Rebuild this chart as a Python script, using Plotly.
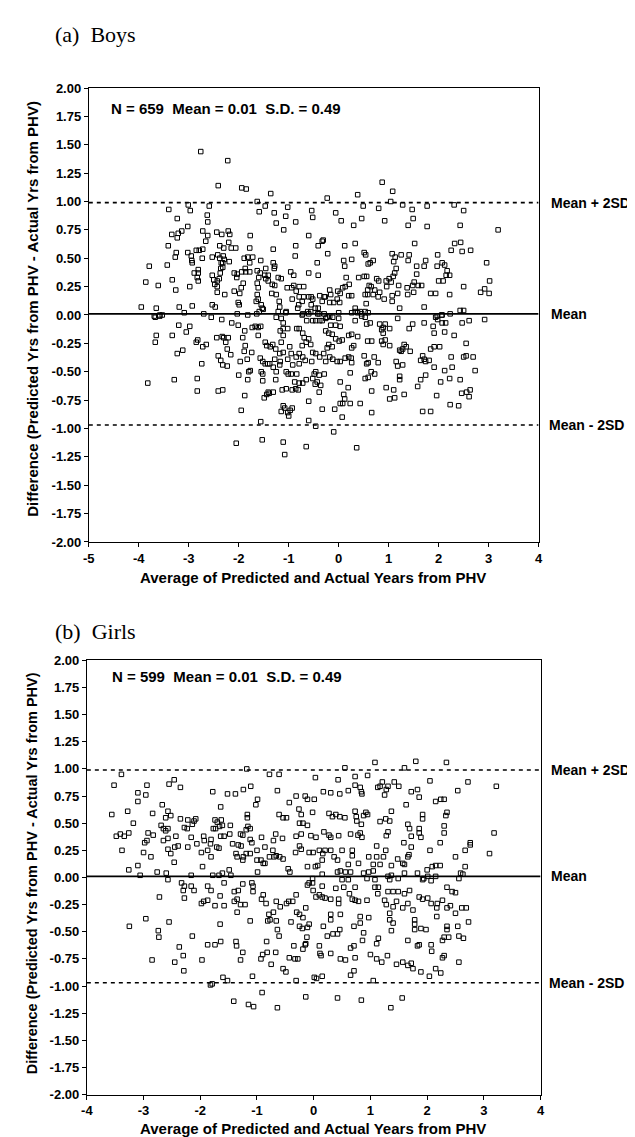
import plotly.graph_objects as go

W, H = 635, 1137

# ---- summary statistics shown on the chart ----
boys_n, boys_mean, boys_sd = 659, 0.01, 0.49
girls_n, girls_mean, girls_sd = 599, 0.01, 0.49

x_ticks_boys = [-5, -4, -3, -2, -1, 0, 1, 2, 3, 4]
x_ticks_girls = [-4, -3, -2, -1, 0, 1, 2, 3, 4]
y_ticks = [2.0, 1.75, 1.5, 1.25, 1.0, 0.75, 0.5, 0.25, 0.0, -0.25, -0.5, -0.75, -1.0, -1.25, -1.5, -1.75, -2.0]

# ---- (average, difference) readings, boys ----
boys_points = [
(-2.76,1.44),(-2.22,1.36),(-2.41,1.14),(-1.94,1.12),(-1.85,1.11),(-1.36,1.07),(-1.63,1.00),(-0.23,1.03),(-3.01,0.97),(-2.59,0.96),
(-3.40,0.93),(-2.97,0.92),(-1.59,0.91),(-1.47,0.96),(-1.29,0.90),(-1.02,0.95),(-0.54,0.92),(-0.52,0.86),(-2.63,0.88),(-2.62,0.82),
(-3.23,0.85),(-1.06,0.87),(-1.25,0.81),(-0.86,0.82),(-3.02,0.78),(-3.14,0.74),(-3.34,0.71),(-3.21,0.72),(-3.23,0.68),(-2.72,0.74),
(-2.62,0.70),(-2.66,0.65),(-2.44,0.73),(-2.34,0.71),(-2.21,0.74),(-2.18,0.71),(-1.77,0.70),(-1.10,0.75),(-0.60,0.70),(-2.20,0.64),
(-2.38,0.61),(-2.30,0.59),(-3.41,0.61),(-1.78,0.59),(-2.15,0.59),(-2.06,0.59),(-1.31,0.58),(-0.86,0.61),(-0.41,0.61),(-0.33,0.65),
(-0.22,0.54),(-3.25,0.55),(-3.27,0.51),(-3.02,0.55),(-2.95,0.52),(-2.94,0.48),(-2.93,0.46),(-2.85,0.57),(-2.79,0.57),(-2.72,0.58),
(-2.73,0.50),(-2.53,0.51),(-2.42,0.53),(-2.38,0.50),(-2.31,0.52),(-2.29,0.49),(-2.35,0.46),(-2.32,0.46),(-2.19,0.47),(-1.89,0.50),
(-1.82,0.51),(-1.72,0.51),(-1.78,0.46),(-1.56,0.48),(-1.31,0.46),(-1.28,0.43),(-1.29,0.41),(-1.46,0.41),(-0.87,0.52),(-0.43,0.46),
(-0.41,0.35),(-3.79,0.43),(-3.43,0.44),(-2.81,0.40),(-2.89,0.37),(-2.81,0.37),(-2.83,0.33),(-2.81,0.30),(-2.53,0.35),(-2.50,0.31),
(-2.43,0.30),(-2.39,0.32),(-2.48,0.27),(-2.43,0.25),(-2.43,0.20),(-2.36,0.41),(-2.37,0.37),(-2.32,0.42),(-2.09,0.37),(-2.04,0.33),
(-2.03,0.36),(-1.94,0.38),(-1.87,0.41),(-1.86,0.38),(-1.78,0.38),(-1.91,0.28),(-1.95,0.24),(-1.98,0.19),(-2.09,0.21),(-1.63,0.39),
(-1.60,0.33),(-1.63,0.28),(-1.61,0.24),(-1.63,0.18),(-1.61,0.14),(-1.57,0.37),(-1.48,0.35),(-1.41,0.35),(-1.46,0.32),(-1.41,0.30),
(-1.33,0.27),(-1.28,0.26),(-1.34,0.19),(-1.25,0.18),(-1.21,0.33),(-1.15,0.32),(-0.96,0.38),(-0.90,0.35),(-0.90,0.26),(-0.85,0.21),
(-0.93,0.14),(-1.03,0.24),(-0.94,0.24),(-0.79,0.25),(-0.70,0.25),(-0.60,0.37),(-3.86,0.29),(-3.61,0.26),(-3.33,0.31),(-3.26,0.22),
(-2.98,0.25),(-2.28,0.18),(-2.01,0.11),(-1.99,0.09),(-2.53,0.09),(-2.47,0.07),(-1.65,0.12),(-1.55,0.09),(-1.53,0.06),(-1.59,0.03),
(-1.51,0.05),(-1.19,0.12),(-1.18,0.07),(-1.21,0.03),(-1.05,0.03),(-0.79,0.16),(-0.70,0.16),(-0.73,0.12),(-0.80,0.09),(-0.60,0.16),
(-0.55,0.16),(-0.52,0.14),(-0.55,0.09),(-0.38,0.17),(-0.29,0.16),(-0.33,0.12),(-0.47,0.06),(-0.41,0.06),(-0.56,0.03),(-0.39,0.01),
(-0.29,0.01),(-3.95,0.07),(-3.65,0.06),(-3.69,-0.01),(-3.19,0.07),(-3.09,0.02),(-2.93,0.08),(-3.58,0.00),(-3.53,0.00),(-2.70,0.01),
(-2.03,0.01),(-1.82,0.00),(-1.64,0.01),(-0.82,0.06),(-0.72,0.01),(-0.62,0.03),
(0.87,1.17),(1.08,1.09),(0.38,1.06),(1.04,1.00),(0.49,0.96),(0.80,0.94),(1.28,0.97),(1.47,0.93),(1.77,0.96),(2.31,0.97),
(2.50,0.92),(-0.06,0.90),(0.05,0.83),(0.46,0.85),(0.92,0.83),(0.30,0.79),(1.49,0.85),(1.39,0.79),(1.77,0.78),(2.43,0.79),
(3.19,0.75),(-0.31,0.66),(0.12,0.61),(0.33,0.63),(1.52,0.63),(2.32,0.63),(2.44,0.64),(2.25,0.57),(2.47,0.56),(2.64,0.57),
(0.51,0.55),(0.54,0.53),(1.07,0.54),(1.13,0.51),(1.25,0.53),(1.41,0.53),(0.26,0.49),(0.10,0.48),(0.12,0.43),(0.69,0.48),
(0.59,0.45),(0.63,0.46),(1.10,0.47),(1.39,0.48),(1.74,0.48),(1.71,0.43),(1.56,0.43),(1.98,0.53),(2.07,0.46),(1.97,0.43),
(2.12,0.44),(2.96,0.46),(1.15,0.41),(1.12,0.37),(1.09,0.34),(2.17,0.39),(2.22,0.35),(2.15,0.35),(2.09,0.30),(2.00,0.30),
(0.15,0.33),(0.40,0.33),(0.51,0.34),(0.56,0.34),(0.76,0.32),(0.80,0.30),(0.95,0.30),(1.01,0.32),(1.05,0.29),(0.96,0.25),
(1.56,0.36),(1.51,0.29),(1.59,0.26),(1.66,0.26),(1.48,0.26),(1.50,0.20),(1.20,0.26),(1.37,0.24),(1.38,0.18),(1.18,0.19),
(0.21,0.27),(0.13,0.25),(0.08,0.24),(-0.02,0.21),(0.03,0.19),(0.61,0.26),(0.65,0.25),(0.58,0.22),(0.72,0.22),(0.69,0.18),
(0.82,0.20),(0.79,0.16),(-0.18,0.22),(-0.16,0.18),(-0.27,0.16),(0.20,0.17),(0.26,0.17),(0.53,0.18),(0.58,0.18),(-0.03,0.14),
(0.02,0.11),(-0.10,0.11),(-0.18,0.11),(0.33,0.06),(0.38,0.02),(0.26,0.02),(0.46,0.01),(0.55,0.10),(0.59,0.02),(0.91,0.14),
(1.07,0.12),(1.22,0.06),(1.07,0.17),(1.71,0.07),(1.84,0.19),(1.94,0.19),(2.22,0.18),(2.50,0.25),(2.84,0.20),(2.92,0.23),
(3.01,0.19),(3.02,0.30),(2.43,0.04),(2.50,0.04),(2.23,0.01),(2.06,0.00),(1.97,-0.01),
(-3.67,-0.02),(-3.58,-0.01),(-2.55,-0.02),(-2.34,-0.04),(-2.14,-0.07),(-2.01,-0.09),(-3.67,-0.24),(-3.65,-0.18),(-3.33,-0.18),(-3.20,-0.09),
(-3.05,-0.15),(-2.98,-0.10),(-3.23,-0.34),(-3.12,-0.31),(-2.85,-0.24),(-2.82,-0.22),(-2.72,-0.28),(-2.65,-0.26),(-2.74,-0.43),(-3.82,-0.60),
(-3.29,-0.57),(-2.83,-0.56),(-2.83,-0.67),(-2.41,-0.67),(-2.32,-0.66),(-2.41,-0.36),(-2.36,-0.40),(-2.32,-0.44),(-2.23,-0.45),(-2.16,-0.35),
(-2.26,-0.24),(-2.33,-0.19),(-2.44,-0.20),(-2.30,-0.20),(-2.21,-0.20),(-2.23,-0.30),(-1.97,-0.41),(-1.87,-0.27),(-1.89,-0.32),(-1.83,-0.39),
(-1.74,-0.33),(-1.92,-0.20),(-1.88,-0.14),(-1.73,-0.11),(-1.61,-0.18),(-1.61,-0.11),(-1.67,-0.10),(-1.56,-0.10),(-2.00,-0.53),(-1.82,-0.57),
(-1.80,-0.50),(-1.77,-0.49),(-1.88,-0.71),(-1.95,-0.84),(-2.05,-1.13),(-1.55,-0.50),(-1.52,-0.52),(-1.52,-0.58),(-1.56,-0.94),(-1.53,-1.10),
(-1.49,-0.73),(-1.44,-0.70),(-1.41,-0.68),(-1.39,-0.69),(-1.31,-0.68),(-1.47,-0.24),(-1.44,-0.27),(-1.37,-0.28),(-1.32,-0.26),(-1.26,-0.30),
(-1.57,-0.38),(-1.52,-0.41),(-1.47,-0.43),(-1.42,-0.43),(-1.38,-0.43),(-1.31,-0.46),(-1.28,-0.39),(-1.25,-0.50),(-1.18,-0.44),(-1.17,-0.41),
(-1.26,-0.57),(-1.13,-0.66),(-1.05,-0.65),(-0.93,-0.66),(-0.86,-0.65),(-0.81,-0.66),(-1.11,-0.80),(-1.08,-0.82),(-1.15,-0.85),(-1.02,-0.86),
(-1.00,-0.89),(-0.97,-0.84),(-0.93,-0.82),(-1.11,-1.12),(-1.08,-1.23),(-0.65,-1.16),(-0.60,-0.93),(-0.46,-0.98),(-0.60,-0.76),(-0.33,-0.83),
(-1.05,-0.50),(-1.01,-0.52),(-0.95,-0.52),(-0.88,-0.59),(-0.84,-0.52),(-0.79,-0.60),(-0.72,-0.60),(-0.65,-0.57),(-0.52,-0.56),(-0.49,-0.52),
(-0.46,-0.50),(-0.39,-0.53),(-0.47,-0.61),(-0.43,-0.59),(-0.36,-0.62),(-0.39,-0.68),(-0.29,-0.52),(-1.18,-0.34),(-1.11,-0.33),(-0.98,-0.28),
(-0.95,-0.34),(-1.02,-0.39),(-0.92,-0.44),(-0.85,-0.37),(-0.79,-0.34),(-0.72,-0.37),(-0.67,-0.40),(-0.79,-0.43),(-1.11,-0.18),(-1.15,-0.24),
(-1.17,-0.14),(-1.11,-0.12),(-1.02,-0.12),(-0.84,-0.12),(-0.72,-0.16),(-0.69,-0.20),(-0.65,-0.24),(-0.73,-0.27),(-0.60,-0.21),(-0.56,-0.26),
(-0.52,-0.33),(-0.46,-0.34),(-0.54,-0.41),(-0.38,-0.37),(-0.30,-0.34),(-0.26,-0.41),(-1.25,-0.02),(-1.15,-0.03),(-1.11,-0.07),(-1.06,0.02),
(-0.79,-0.12),(-0.73,0.00),(-0.64,-0.05),(-0.52,-0.05),(-0.46,-0.05),(-0.38,-0.05),(-0.33,-0.05),(-0.26,-0.03),(-0.60,0.01),(-0.42,0.01),
(-0.23,-0.02),(-0.18,-0.01),(-0.12,-0.02),(0.00,-0.03),(0.00,0.02),(0.33,0.03),(0.43,0.03),(0.53,0.03),
(-0.16,-0.09),(-0.06,-0.09),(0.03,-0.10),(0.33,-0.05),(0.46,-0.01),(0.53,-0.02),(0.63,-0.07),(0.56,-0.08),
(1.18,-0.03),(1.41,-0.12),(1.48,-0.08),(1.71,-0.07),(1.89,-0.10),(1.91,-0.16),(1.94,-0.02),(1.98,-0.04),(2.07,0.00),(2.07,-0.07),
(2.14,-0.07),(2.12,-0.15),(2.31,-0.18),(2.47,-0.07),(2.61,-0.05),(2.92,-0.04),(0.82,-0.08),(0.89,-0.11),(0.93,-0.08),(1.02,-0.12),
(0.89,-0.16),(0.86,-0.13),(-0.26,-0.14),(-0.20,-0.16),(-0.13,-0.17),(-0.06,-0.21),(0.01,-0.23),(0.07,-0.22),(-0.20,-0.26),(-0.13,-0.28),
(-0.23,-0.29),(0.20,-0.18),(0.26,-0.17),(0.38,-0.19),(0.30,-0.27),(0.26,-0.29),(0.58,-0.23),(0.66,-0.23),(0.86,-0.23),(0.93,-0.22),
(0.89,-0.26),(1.02,-0.27),(1.31,-0.26),(1.35,-0.28),(1.28,-0.30),(1.43,-0.32),(1.22,-0.31),(1.25,-0.32),(1.84,-0.30),(1.91,-0.28),
(2.02,-0.28),(2.55,-0.25),(-0.18,-0.37),(-0.12,-0.39),(-0.03,-0.41),(0.03,-0.41),(0.13,-0.38),(0.20,-0.37),(0.25,-0.38),(0.26,-0.42),
(0.51,-0.36),(0.56,-0.43),(0.59,-0.42),(0.79,-0.42),(0.71,-0.37),(1.15,-0.41),(1.18,-0.45),(1.28,-0.44),(1.68,-0.36),(1.64,-0.40),
(1.71,-0.39),(1.74,-0.41),(1.81,-0.40),(1.91,-0.46),(2.12,-0.49),(2.25,-0.37),(2.27,-0.46),(2.50,-0.37),(2.55,-0.36),(2.69,-0.37),
(2.73,-0.49),(0.03,-0.59),(0.19,-0.64),(0.10,-0.70),(0.12,-0.74),(0.03,-0.78),(0.08,-0.78),(0.23,-0.78),(0.43,-0.78),(0.23,-0.51),
(0.53,-0.56),(0.59,-0.55),(0.65,-0.50),(0.72,-0.52),(0.66,-0.67),(0.95,-0.64),(1.10,-0.66),(1.02,-0.74),(1.12,-0.73),(1.31,-0.70),
(1.22,-0.54),(1.22,-0.57),(1.58,-0.63),(1.64,-0.57),(1.74,-0.53),(2.04,-0.59),(2.22,-0.56),(2.43,-0.57),(1.96,-0.71),(2.23,-0.79),
(2.40,-0.80),(2.46,-0.69),(2.56,-0.68),(2.63,-0.66),(2.61,-0.72),(-0.08,-0.83),(0.07,-0.90),(0.66,-0.86),(1.68,-0.85),(1.84,-0.85),
(-0.10,-1.03),(0.36,-1.17),
]

# ---- (average, difference) readings, girls ----
girls_points = [
(-1.18,1.00),(-3.39,0.95),(-3.52,0.85),(-2.94,0.85),(-2.55,0.86),(-2.46,0.90),(-2.35,0.83),(-3.10,0.78),(-3.10,0.70),(-2.96,0.76),
(-1.78,0.79),(-1.52,0.77),(-1.38,0.77),(-1.24,0.81),(-1.11,0.84),(-0.78,0.95),(-0.61,0.95),(-0.64,0.80),(-0.31,0.75),(-0.15,0.75),
(-0.11,0.72),(-1.64,0.65),(-1.02,0.67),(-0.99,0.72),(-0.43,0.69),(-3.56,0.58),(-3.28,0.61),(-3.18,0.50),(-2.84,0.59),(-2.67,0.67),
(-2.57,0.61),(-2.61,0.55),(-2.52,0.57),(-2.35,0.54),(-2.22,0.53),(-2.11,0.52),(-2.08,0.54),(-2.14,0.49),(-1.74,0.53),(-1.70,0.51),
(-1.63,0.53),(-1.77,0.45),(-1.73,0.45),(-1.66,0.47),(-1.61,0.48),(-1.47,0.48),(-1.58,0.38),(-1.48,0.40),(-2.69,0.48),(-2.65,0.45),
(-2.61,0.43),(-2.57,0.45),(-2.28,0.46),(-2.23,0.45),(-2.16,0.37),(-1.17,0.55),(-1.17,0.58),(-1.16,0.47),(-1.19,0.44),(-1.12,0.45),
(-1.29,0.40),(-1.25,0.39),(-0.61,0.58),(-0.54,0.55),(-0.48,0.55),(-0.26,0.63),(-0.22,0.58),(-0.25,0.50),(-0.19,0.50),(-0.11,0.48),
(-0.02,0.60),(-0.67,0.40),(-0.55,0.36),(-0.31,0.38),(-0.22,0.40),(-3.48,0.38),(-3.41,0.40),(-3.34,0.38),(-3.26,0.41),(-2.92,0.41),
(-2.83,0.39),(-2.65,0.34),(-2.57,0.36),(-2.43,0.38),(-1.94,0.38),(-1.93,0.34),(-1.81,0.35),(-1.64,0.38),(-1.12,0.35),(-0.92,0.37),
(-0.71,0.34),
(0.55,1.01),(1.08,1.06),(1.60,1.01),(1.80,1.07),(2.34,1.06),(0.03,0.92),(0.43,0.90),(0.73,0.93),(0.95,0.94),(1.21,0.88),
(1.17,0.84),(1.13,0.83),(1.31,0.84),(1.42,0.88),(1.50,0.84),(2.05,0.89),(2.72,0.88),(3.22,0.84),(2.54,0.80),(0.17,0.79),
(0.01,0.72),(0.30,0.78),(0.46,0.77),(0.61,0.80),(0.73,0.85),(0.82,0.83),(0.85,0.77),(0.84,0.79),(1.28,0.81),(1.25,0.76),
(1.72,0.79),(1.83,0.81),(1.86,0.74),(1.63,0.67),(2.15,0.70),(2.24,0.72),(2.30,0.72),(2.35,0.60),
(0.27,0.59),(0.33,0.56),(0.39,0.58),(0.46,0.56),(0.55,0.55),(0.73,0.61),(0.75,0.56),(0.76,0.52),(0.84,0.49),(0.88,0.57),
(0.92,0.60),(0.95,0.58),(1.17,0.515),(1.27,0.54),(1.34,0.52),(1.37,0.61),(1.66,0.49),(1.69,0.45),(1.86,0.45),(1.92,0.58),
(1.92,0.54),(2.33,0.57),(2.30,0.475),(2.30,0.41),(3.18,0.41),
(0.18,0.42),(0.27,0.39),(0.30,0.37),(0.44,0.385),(0.65,0.40),(0.78,0.39),(0.82,0.41),(0.85,0.37),(1.28,0.385),(1.31,0.42),
(1.59,0.32),(1.89,0.37),(1.86,0.41),(2.23,0.32),(2.76,0.32),(0.04,0.37),(-0.05,0.385),
(-3.38,0.25),(-3.26,0.07),(-3.10,0.11),(-3.06,0.02),(-3.00,0.23),(-2.98,0.32),(-2.94,0.34),(-2.87,0.19),(-2.76,0.05),(-2.72,-0.18),
(-2.60,0.04),(-2.52,0.22),(-2.57,0.26),(-2.45,0.28),(-2.39,0.29),(-2.46,0.14),(-2.22,0.28),(-2.06,0.31),(-1.98,0.23),(-1.87,0.25),
(-1.81,0.19),(-1.96,0.10),(-1.82,0.31),(-1.71,0.28),(-1.67,0.27),(-1.43,0.31),(-1.33,0.30),(-1.28,0.29),
(-1.09,0.32),(-1.00,0.25),(-0.86,0.28),(-0.72,0.25),(-0.66,0.20),(-1.12,0.22),(-1.19,0.22),(-1.37,0.22),(-1.35,0.19),(-1.24,0.19),
(-1.25,0.16),(-1.00,0.16),(-0.93,0.16),(-0.86,0.13),(-0.78,0.19),(-0.70,0.19),(-0.60,0.19),(-0.54,0.17),(-0.32,0.23),(-0.25,0.29),
(-0.22,0.26),(-0.08,0.23),(-0.01,0.23),(0.07,0.11),(0.03,0.10),(0.15,0.16),(0.20,0.25),
(-2.16,0.02),(-1.78,0.02),(-1.67,0.02),(-1.61,0.04),(-1.49,0.07),(-1.46,0.02),(-0.99,0.05),(-0.89,0.13),(-0.45,0.08),(-0.42,0.05),
(-0.11,0.10),(0.15,0.03),
(-2.57,-0.02),(-2.33,-0.05),(-2.30,-0.12),(-2.28,-0.19),(-2.28,-0.08),(-2.16,-0.08),(-2.11,-0.12),(-1.87,-0.08),(-1.81,-0.12),(-1.65,-0.17),
(-1.58,-0.05),(-1.98,-0.24),(-1.94,-0.22),(-1.87,-0.21),(-1.74,-0.26),(-1.58,-0.26),(-1.40,-0.13),(-1.33,-0.12),(-1.25,-0.06),(-1.40,-0.22),
(-1.35,-0.20),(-1.29,-0.25),(-1.21,-0.25),(-1.35,-0.32),(-1.07,-0.08),(-1.07,-0.13),(-1.09,-0.05),(-0.89,-0.16),(-0.92,-0.20),(-0.84,-0.24),
(-0.79,-0.34),(-0.77,-0.39),(-0.81,-0.40),(-0.71,-0.32),(-0.66,-0.40),(-0.66,-0.22),(-0.59,-0.27),(-0.48,-0.24),(-0.44,-0.22),(-0.37,-0.22),
(-0.31,-0.16),(-0.30,-0.32),(-0.25,-0.34),(-0.19,-0.37),(-0.14,-0.28),(-0.11,-0.07),(-0.08,-0.05),(-0.02,-0.05),(-0.01,-0.12),(0.04,-0.18),
(0.10,-0.16),(0.15,-0.18),(0.15,-0.08),(0.20,-0.19),(-0.02,-0.01),
(-3.25,-0.45),(-2.96,-0.38),(-2.55,-0.41),(-2.74,-0.49),(-2.73,-0.55),(-2.14,-0.54),(-1.65,-0.43),(-1.12,-0.40),(-0.40,-0.41),(-0.64,-0.48),
(-0.61,-0.54),(-0.25,-0.45),(-0.20,-0.47),(-0.11,-0.46),(-0.08,-0.43),(-0.12,-0.55),(0.17,-0.45),(0.24,-0.54),
(-2.37,-0.64),(-2.30,-0.72),(-2.45,-0.78),(-2.29,-0.86),(-2.85,-0.76),(-1.97,-0.76),(-1.87,-0.62),(-1.74,-0.62),(-1.64,-0.59),(-1.37,-0.59),
(-1.36,-0.63),(-1.25,-0.69),(-1.29,-0.76),(-1.08,-0.91),(-0.93,-0.75),(-0.90,-0.71),(-0.82,-0.69),(-0.83,-0.59),(-0.75,-0.80),(-0.67,-0.69),
(-0.54,-0.84),(-0.49,-0.87),(-0.43,-0.74),(-0.35,-0.63),(-0.33,-0.75),(-0.28,-0.75),(-0.19,-0.66),(-0.15,-0.62),(-0.14,-0.61),(0.01,-0.92),
(0.15,-0.91),(0.10,-0.63),(0.11,-0.70),(0.13,-0.72),
(-1.79,-0.98),(-1.82,-0.99),(-1.60,-0.92),(-1.52,-0.95),(-1.41,-1.14),(-1.15,-1.17),(-1.06,-1.19),(-0.91,-1.06),(-0.64,-1.20),(-0.31,-0.95),
(-0.14,-1.10),(0.05,-0.93),
(0.10,0.25),(0.16,0.22),(0.30,0.25),(0.36,0.19),(0.42,0.16),(0.50,0.25),(0.68,0.25),(0.68,0.20),(0.97,0.19),(1.11,0.19),
(1.23,0.19),(1.37,0.11),(1.48,0.17),(1.57,0.13),(1.66,0.19),(1.68,0.21),(2.00,0.07),(2.09,0.10),(2.15,0.11),(2.23,0.11),
(2.67,0.10),(0.61,0.12),(0.79,0.13),(1.05,0.12),(1.17,0.12),(1.60,0.12),
(1.11,0.29),(1.27,0.25),(1.72,0.28),(2.05,0.25),(2.50,0.19),(2.67,0.25),(2.76,0.30),(3.10,0.22),(1.72,0.38),
(0.42,0.05),(0.47,0.06),(0.56,0.05),(0.65,0.05),(0.88,0.04),(0.97,0.05),(1.05,0.06),(1.31,0.01),(1.37,0.02),(1.60,0.04),
(1.83,0.04),(1.94,-0.01),(2.01,0.01),(2.15,0.01),(2.59,0.04),(2.63,0.03),(2.56,-0.01),(0.50,-0.02),(0.61,-0.02),(0.94,-0.01),
(1.08,-0.02),(1.34,-0.02),(1.49,-0.01),
(0.39,-0.10),(0.53,-0.09),(0.63,-0.15),(0.73,-0.09),(1.08,-0.09),(1.14,-0.09),(1.13,-0.15),(1.31,-0.13),(1.40,-0.13),(1.49,-0.13),
(1.60,-0.15),(1.69,-0.12),(1.92,-0.02),(2.07,-0.03),(2.35,-0.09),(2.50,-0.14),(2.44,-0.13),
(0.30,-0.20),(0.44,-0.20),(0.44,-0.24),(0.68,-0.20),(0.73,-0.21),(0.79,-0.22),(0.94,-0.21),(1.25,-0.21),(1.28,-0.25),(1.40,-0.27),
(1.46,-0.22),(1.57,-0.28),(1.66,-0.24),(1.75,-0.30),(1.86,-0.18),(1.92,-0.20),(2.01,-0.19),(2.07,-0.24),(2.18,-0.24),(2.27,-0.21),
(2.17,-0.28),(2.35,-0.28),(2.41,-0.26),(2.50,-0.33),(2.61,-0.28),(2.69,-0.28),
(0.30,-0.34),(0.30,-0.39),(0.47,-0.34),(0.82,-0.36),(0.97,-0.37),(1.34,-0.33),(1.34,-0.39),(1.40,-0.42),(0.82,-0.42),(1.78,-0.39),
(1.78,-0.43),(1.78,-0.48),(1.89,-0.47),(1.98,-0.48),(2.17,-0.36),(2.35,-0.45),(2.35,-0.48),(2.54,-0.45),(2.73,-0.41),
(0.34,-0.52),(0.42,-0.52),(0.46,-0.48),(0.71,-0.45),(0.88,-0.51),(0.86,-0.58),(1.14,-0.56),(1.11,-0.61),(1.37,-0.49),(1.66,-0.58),
(1.83,-0.63),(1.86,-0.62),(2.07,-0.62),(2.08,-0.68),(2.27,-0.58),(2.30,-0.55),(2.38,-0.55),(2.56,-0.54),(2.64,-0.56),
(0.30,-0.70),(0.47,-0.75),(0.56,-0.76),(0.65,-0.65),(0.71,-0.63),(0.73,-0.74),(1.00,-0.71),(1.11,-0.75),(1.20,-0.78),(1.30,-0.72),
(1.46,-0.80),(1.57,-0.78),(1.66,-0.81),(1.72,-0.79),(1.75,-0.84),(1.89,-0.87),(2.04,-0.91),(2.15,-0.84),(2.24,-0.88),(2.27,-0.74),
(2.30,-0.72),(2.56,-0.78),
(0.65,-0.90),(0.71,-0.86),(1.05,-0.95),(0.42,-1.11),(0.84,-1.13),(1.36,-1.20),(1.56,-1.11),
]

boys_avg = [p[0] for p in boys_points]
boys_diff = [p[1] for p in boys_points]
girls_avg = [p[0] for p in girls_points]
girls_diff = [p[1] for p in girls_points]

SANS = "Arial, Liberation Sans, sans-serif"
SERIF = "Times New Roman, Liberation Serif, serif"

fig = go.Figure()

marker = dict(symbol="square-open", size=4.5, color="black", line=dict(width=1, color="black"))

def add_panel(xs, ys, mean, sd, xr, xa, ya):
    fig.add_trace(go.Scatter(x=xs, y=ys, mode="markers", marker=marker,
                             xaxis=xa, yaxis=ya, showlegend=False, hoverinfo="skip"))
    for lvl, dash in [(mean + 2 * sd, "4px,4px"), (mean, "solid"), (mean - 2 * sd, "4px,4px")]:
        fig.add_trace(go.Scatter(x=[xr[0], xr[1]], y=[lvl, lvl], mode="lines",
                                 line=dict(color="black", width=1.6, dash=dash),
                                 xaxis=xa, yaxis=ya, showlegend=False, hoverinfo="skip"))

add_panel(boys_avg, boys_diff, boys_mean, boys_sd, (-5, 4), "x", "y")
add_panel(girls_avg, girls_diff, girls_mean, girls_sd, (-4, 4), "x2", "y2")

axis_common = dict(showline=True, linecolor="black", linewidth=1, mirror=True,
                   ticks="outside", ticklen=4, tickcolor="black", tickwidth=1,
                   tickfont=dict(family=SANS, size=13, color="black", weight="bold"),
                   showgrid=False, zeroline=False, fixedrange=True)

fig.update_layout(
    width=W, height=H, margin=dict(l=0, r=0, t=0, b=0),
    paper_bgcolor="white", plot_bgcolor="white",
    xaxis=dict(domain=[76 / W, 533 / W], range=[-5, 4], tickvals=x_ticks_boys,
               ticktext=[str(v) for v in x_ticks_boys], anchor="y", **axis_common),
    yaxis=dict(domain=[1 - 534 / H, 1 - 74 / H], range=[-2, 2], tickvals=y_ticks,
               ticktext=[f"{v:.2f}" for v in y_ticks], anchor="x", **axis_common),
    xaxis2=dict(domain=[74 / W, 535 / W], range=[-4, 4], tickvals=x_ticks_girls,
                ticktext=[str(v) for v in x_ticks_girls], anchor="y2", **axis_common),
    yaxis2=dict(domain=[1 - 1094 / H, 1 - 654 / H], range=[-2, 2], tickvals=y_ticks,
                ticktext=[f"{v:.2f}" for v in y_ticks], anchor="x2", **axis_common),
)

ann = []
def txt(text, x, y, size, family=SANS, xanchor="left", angle=0, xref="paper", yref="paper"):
    ann.append(dict(text=text, x=x, y=y, xref=xref, yref=yref, showarrow=False,
                    xanchor=xanchor, yanchor="middle", textangle=angle,
                    font=dict(family=family, size=size, color="black")))

# panel titles
txt("(a)  Boys", 40 / W, 1 - 20 / H, 22, SERIF)
txt("(b)  Girls", 40 / W, 1 - 625 / H, 22, SERIF)
# stats
txt(f"<b>N = {boys_n}  Mean = {boys_mean:.2f}  S.D. = {boys_sd:.2f}</b>", 97 / W, 1 - 95 / H, 15)
txt(f"<b>N = {girls_n}  Mean = {girls_mean:.2f}  S.D. = {girls_sd:.2f}</b>", 98 / W, 1 - 670 / H, 15)
# reference line labels
for yref, m, s in [("y", boys_mean, boys_sd), ("y2", girls_mean, girls_sd)]:
    txt("<b>Mean + 2SD</b>", 544 / W, m + 2 * s, 14, yref=yref)
    txt("<b>Mean</b>", 544 / W, m, 14, yref=yref)
    txt("<b>Mean - 2SD</b>", 542 / W, m - 2 * s, 14, yref=yref)
# axis titles
xt = "<b>Average of Predicted and Actual Years from PHV</b>"
txt(xt, 304 / W, 1 - 570 / H, 15, xanchor="center")
txt(xt, 304 / W, 1 - 1128 / H, 15, xanchor="center")
yt = "<b>Difference (Predicted Yrs from PHV - Actual Yrs from PHV)</b>"
txt(yt, 18 / W, 1 - 298 / H, 15, xanchor="center", angle=-90)
txt(yt, 18 / W, 1 - 870 / H, 14.5, xanchor="center", angle=-90)

fig.update_layout(annotations=ann)
fig.write_html("out.html")
